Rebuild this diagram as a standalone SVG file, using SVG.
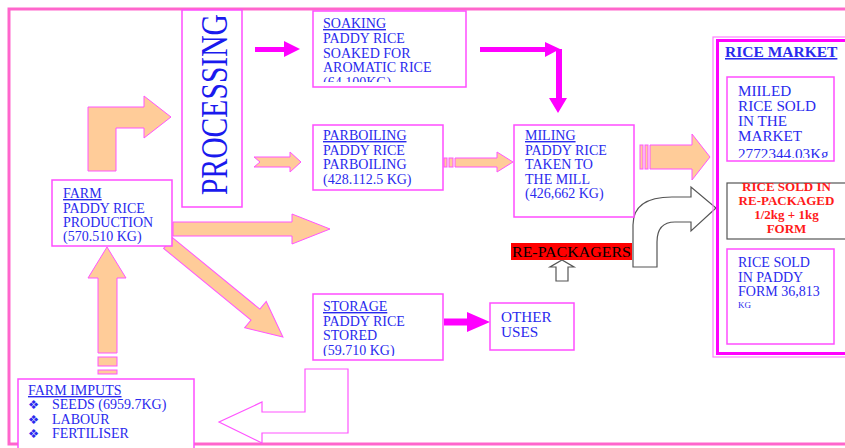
<svg xmlns="http://www.w3.org/2000/svg" width="845" height="448" viewBox="0 0 845 448">
<defs>
<style>
.box{fill:#fff;stroke:#ff4dff;stroke-width:1.5}
.t{font-family:"Liberation Serif","Times New Roman",serif;font-size:14px;fill:#2a2aee}
.tl{font-family:"Liberation Serif","Times New Roman",serif;font-size:15.2px;fill:#2a2aee}
.u{text-decoration:underline}
.peach{fill:#ffcc99;stroke:#ff55ff;stroke-width:1}
.mag{fill:#ff00ff;stroke:none}
.hollow{fill:#fff;stroke:#ff55ff;stroke-width:1.2}
.gray{fill:#fff;stroke:#555;stroke-width:1.2}
.red{font-family:"Liberation Serif","Times New Roman",serif;font-size:13px;font-weight:bold;fill:#ff1a1a;text-anchor:middle}
.bul{font-family:"DejaVu Sans",sans-serif;font-size:12.5px;fill:#2a2aee}
</style>
<clipPath id="cSoak"><rect x="313" y="11" width="153" height="71"/></clipPath>
<clipPath id="cMill"><rect x="727" y="77" width="107" height="81"/></clipPath>
<clipPath id="cStor"><rect x="313" y="294" width="130" height="62"/></clipPath>
</defs>
<rect width="845" height="448" fill="#fff"/>
<rect id="frame" x="9" y="9" width="845" height="435" fill="none" stroke="#ff66cc" stroke-width="3"/>

<g id="connectors">
<polygon class="peach" points="88,171 88,107 144,107 144,96 171,117 144,138 144,128 116,128 116,171"/>
<polygon class="mag" points="255,47 284,47 284,41 300,49 284,57 284,52 255,52"/>
<polygon class="peach" points="254,157 290,157 290,152 301,162 290,172 290,167 254,167 260,162"/>
<g>
<rect class="peach" x="444" y="158" width="3" height="9"/>
<rect class="peach" x="449" y="158" width="4" height="9"/>
<polygon class="peach" points="455,158 497,158 497,152 513,162 497,172 497,167 455,167"/>
</g>
<polygon class="mag" points="480,47 545,47 545,42 560,49 545,57 545,52 480,52"/>
<polygon class="mag" points="556,49 562,49 562,98 567,98 558,113 549,98 556,98"/>
<g>
<rect class="peach" x="640" y="145" width="3" height="24"/>
<rect class="peach" x="645" y="145" width="3" height="24"/>
<polygon class="peach" points="650,145 692,145 692,134 710,157 692,180 692,169 650,169"/>
</g>
<polygon class="peach" points="173,222 292,222 292,214 330,229 292,244 292,236 173,236"/>
<polygon class="peach" transform="translate(168,243) rotate(39.3)" points="0,-7 113,-7 113,-17 148.5,0 113,17 113,7 0,7"/>
<polygon class="mag" points="444,318.5 467,318.5 467,312 490,322 467,332 467,325.5 444,325.5"/>
<polygon class="hollow" points="305,369 348,369 348,433 262,433 262,443 219,422 262,402 262,412 305,412"/>
<g>
<rect class="peach" x="98" y="370" width="19" height="4"/>
<rect class="peach" x="98" y="357" width="19" height="9"/>
<polygon class="peach" points="98,353 98,278 88,278 107,247 126,278 117,278 117,353"/>
</g>
<polygon class="gray" points="556,281 556,267 550,267 562,260 574,267 568,267 568,281"/>
<path class="gray" d="M633,267 L633,225 Q633,197 672,197 L691,197 L691,187 L716,208 L691,231 L691,222 L675,222 Q657,222 657,242 L657,267 Z"/>
</g>

<g id="processing">
<rect class="box" x="182" y="10" width="60" height="197"/>
<text transform="translate(227,195) rotate(-90)" font-family="Liberation Serif,Times New Roman,serif" font-size="37" fill="#1a1aee" textLength="181" lengthAdjust="spacingAndGlyphs">PROCESSING</text>
</g>

<g id="farm">
<rect class="box" x="52" y="180" width="120" height="66"/>
<text class="t"><tspan class="u" x="63" y="198">FARM</tspan><tspan x="63" y="212.5">PADDY RICE</tspan><tspan x="63" y="227">PRODUCTION</tspan><tspan x="63" y="241">(570.510 KG)</tspan></text>
</g>

<g id="soaking">
<rect class="box" x="313" y="11" width="153" height="76"/>
<text class="t" clip-path="url(#cSoak)"><tspan class="u" x="323" y="28">SOAKING</tspan><tspan x="323" y="43">PADDY RICE</tspan><tspan x="323" y="57.5">SOAKED FOR</tspan><tspan x="323" y="72">AROMATIC RICE</tspan><tspan x="323" y="86.5">(64.100KG)</tspan></text>
</g>

<g id="parboiling">
<rect class="box" x="313" y="125" width="130" height="65"/>
<text class="t"><tspan class="u" x="323" y="140">PARBOILING</tspan><tspan x="323" y="155">PADDY RICE</tspan><tspan x="323" y="169">PARBOILING</tspan><tspan x="323" y="184">(428.112.5 KG)</tspan></text>
</g>

<g id="milling">
<rect class="box" x="514" y="125" width="120" height="92"/>
<text class="t"><tspan class="u" x="525" y="140">MILING</tspan><tspan x="525" y="155">PADDY RICE</tspan><tspan x="525" y="169">TAKEN TO</tspan><tspan x="525" y="184">THE MILL</tspan><tspan x="525" y="198">(426,662 KG)</tspan></text>
</g>

<g id="storage">
<rect class="box" x="313" y="294" width="130" height="66"/>
<text class="t" clip-path="url(#cStor)"><tspan class="u" x="323" y="311">STORAGE</tspan><tspan x="323" y="325.5">PADDY RICE</tspan><tspan x="323" y="340">STORED</tspan><tspan x="323" y="354.5">(59.710 KG)</tspan></text>
</g>

<g id="other-uses">
<rect class="box" x="490" y="303" width="84" height="47"/>
<text class="tl"><tspan x="501" y="322">OTHER</tspan><tspan x="501" y="337">USES</tspan></text>
</g>

<g id="repackagers">
<rect x="511" y="243" width="121" height="17" fill="#ff0000"/>
<text x="512" y="257" font-family="Liberation Serif,Times New Roman,serif" font-size="15.5" fill="#000" textLength="119" lengthAdjust="spacingAndGlyphs">RE-PACKAGERS</text>
</g>

<g id="rice-market">
<rect x="713" y="37" width="140" height="320" fill="none" stroke="#ff80ff" stroke-width="1.2"/>
<rect x="717.5" y="40.5" width="140" height="313" fill="none" stroke="#ff00ff" stroke-width="3"/>
<text x="725" y="57" font-family="Liberation Serif,Times New Roman,serif" font-size="15.5" font-weight="bold" fill="#2a2aee" text-decoration="underline">RICE MARKET</text>
<g id="milled-sold">
<rect class="box" x="727" y="77" width="107" height="84"/>
<text class="tl" clip-path="url(#cMill)"><tspan x="738" y="96">MIILED</tspan><tspan x="738" y="111">RICE SOLD</tspan><tspan x="738" y="126">IN THE</tspan><tspan x="738" y="141">MARKET</tspan><tspan x="738" y="159">2772344.03Kg</tspan></text>
</g>
<g id="repackaged-sold">
<rect x="727" y="183" width="125" height="56" fill="#fff" stroke="#555" stroke-width="1.2"/>
<text class="red"><tspan x="786.5" y="191">RICE SOLD IN</tspan><tspan x="786.5" y="205">RE-PACKAGED</tspan><tspan x="786.5" y="219">1/2kg + 1kg</tspan><tspan x="786.5" y="233">FORM</tspan></text>
</g>
<g id="paddy-sold">
<rect class="box" x="727" y="249" width="107" height="95"/>
<text class="t" font-size="14.3"><tspan x="738" y="267">RICE SOLD</tspan><tspan x="738" y="281.5">IN PADDY</tspan><tspan x="738" y="296">FORM 36,813</tspan><tspan x="738" y="308" font-size="9">KG</tspan></text>
</g>
</g>

<g id="farm-inputs">
<rect class="box" x="18" y="379" width="176" height="70"/>
<text class="t"><tspan class="u" x="28" y="395">FARM IMPUTS</tspan><tspan x="52" y="409">SEEDS (6959.7KG)</tspan><tspan x="52" y="423.5">LABOUR</tspan><tspan x="52" y="438">FERTILISER</tspan></text>
<text class="bul"><tspan x="28" y="409">❖</tspan><tspan x="28" y="423.5">❖</tspan><tspan x="28" y="438">❖</tspan></text>
</g>
</svg>
